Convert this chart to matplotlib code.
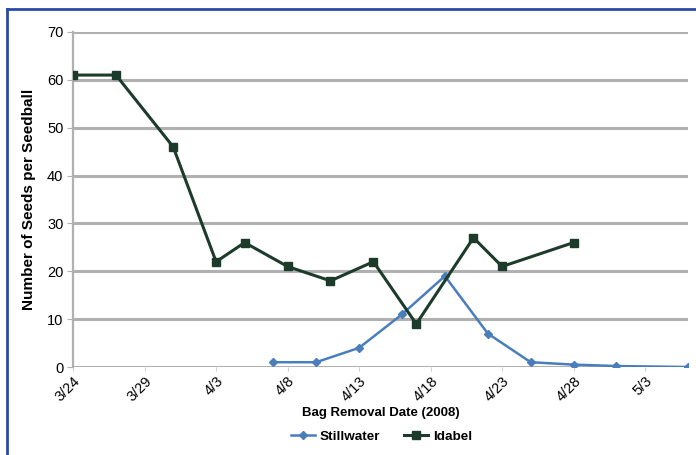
import datetime as dt
import matplotlib
matplotlib.use("Agg")
import matplotlib.pyplot as plt
import matplotlib.dates as mdates
from matplotlib.lines import Line2D

plt.rcParams["font.family"] = ["Liberation Sans", "DejaVu Sans"]

# seedball counts by bag removal date (2008)
idabel_dates = ["3/24", "3/27", "3/31", "4/3", "4/5", "4/8", "4/11", "4/14",
                "4/17", "4/21", "4/23", "4/28"]
idabel_seeds = [61, 61, 46, 22, 26, 21, 18, 22, 9, 27, 21, 26]

stillwater_dates = ["4/7", "4/10", "4/13", "4/16", "4/19", "4/22", "4/25",
                    "4/28", "5/1", "5/6"]
stillwater_seeds = [1, 1, 4, 11, 19, 7, 1, 0.5, 0.2, 0]

tick_dates = ["3/24", "3/29", "4/3", "4/8", "4/13", "4/18", "4/23", "4/28", "5/3"]


def to_date(s):
    m, d = s.split("/")
    return dt.date(2008, int(m), int(d))


fig = plt.figure(figsize=(6.96, 4.55), dpi=100)
ax = fig.add_axes([0.105, 0.1934, 0.8835, 0.7363])

grid_col = "#b0b0b0"
for v in range(0, 71, 10):
    ax.axhline(v, color=grid_col, lw=2.2, zorder=1)

ax.plot([to_date(s) for s in stillwater_dates], stillwater_seeds,
        color="#4a7ebb", lw=1.8, marker="D", ms=4, mec="#4a7ebb",
        label="Stillwater", zorder=3)
ax.plot([to_date(s) for s in idabel_dates], idabel_seeds,
        color="#1d3b2a", lw=2.2, marker="s", ms=6, mec="#1d3b2a",
        label="Idabel", zorder=4)

ax.set_xlim(to_date("3/24"), to_date("5/6"))
ax.set_ylim(0, 70)
ax.set_yticks(range(0, 71, 10))
ax.set_xticks([to_date(s) for s in tick_dates])
ax.xaxis.set_major_formatter(
    plt.FuncFormatter(lambda x, pos: f"{mdates.num2date(x).month}/{mdates.num2date(x).day}"))

for sp in ["top", "right", "bottom"]:
    ax.spines[sp].set_visible(False)
ax.spines["left"].set_color(grid_col)
ax.spines["left"].set_linewidth(1.6)
ax.tick_params(axis="y", length=4, color=grid_col, labelsize=10.5, pad=3)
ax.tick_params(axis="x", length=3, color="#d0d0d0", labelsize=10.5, pad=2)
for lab in ax.get_xticklabels():
    lab.set_rotation(45)
    lab.set_ha("right")
    lab.set_rotation_mode("anchor")

ax.set_xlabel("Bag Removal Date (2008)", fontsize=9.5, fontweight="bold", labelpad=2)
ax.set_ylabel("Number of Seeds per Seedball", fontsize=11, fontweight="bold", labelpad=8)

fig.legend(loc="center", bbox_to_anchor=(0.548, 0.04), ncol=2, frameon=False,
           prop={"weight": "bold", "size": 9.7}, handlelength=1.8,
           handletextpad=0.35, columnspacing=1.8)

# blue frame edges
fig.add_artist(Line2D([0.0095, 0.0095], [0.0, 0.98], transform=fig.transFigure,
                      color="#2a4aa8", lw=2))
fig.add_artist(Line2D([0.0095, 1.0], [0.98, 0.98], transform=fig.transFigure,
                      color="#2a4aa8", lw=2))

fig.savefig("out.png", dpi=100)
